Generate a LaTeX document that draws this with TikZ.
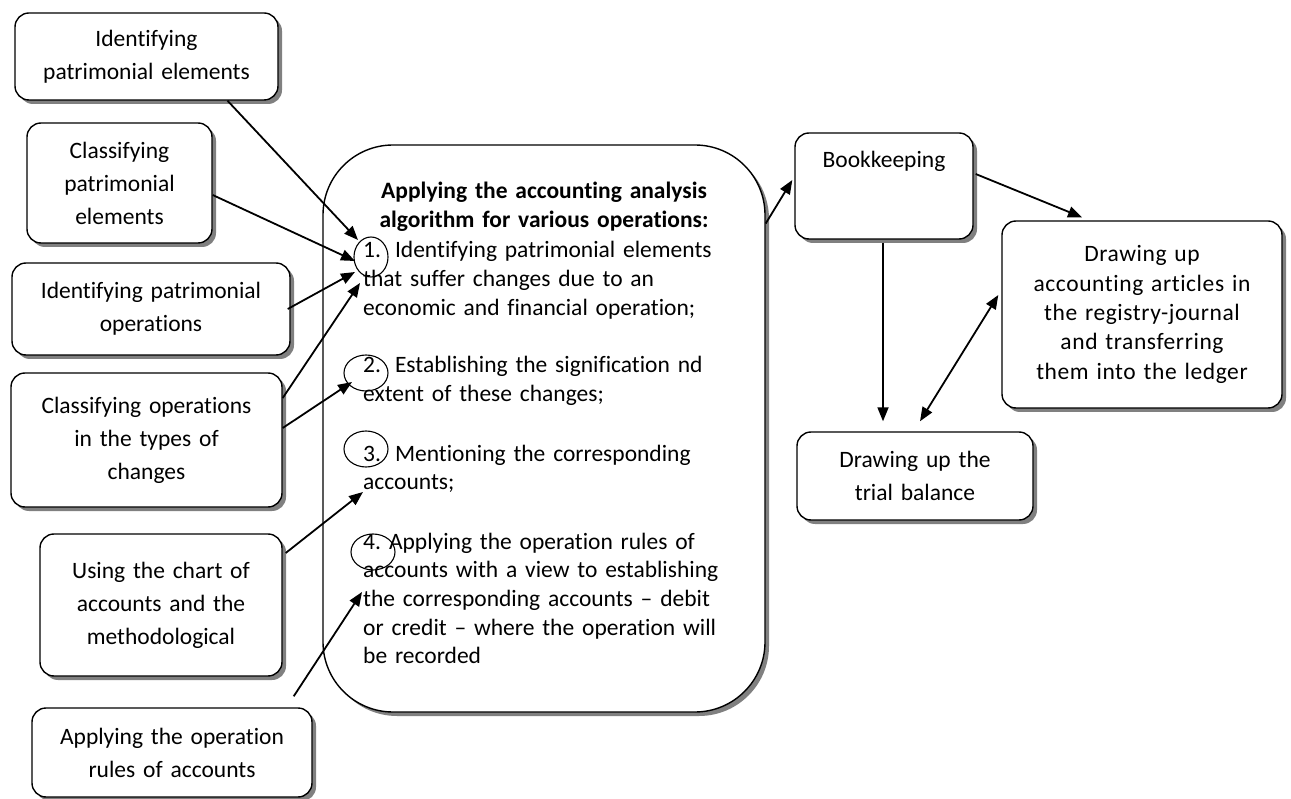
\documentclass[tikz,border=0pt]{standalone}
\usepackage{fontspec}
\setmainfont{Carlito}[Ligatures={NoCommon}]
\usetikzlibrary{shadows,arrows.meta,calc,shapes.geometric}
\begin{document}
\begin{tikzpicture}[x=1pt,y=-1pt,
  rbox/.style={draw, line width=1.4pt, rounded corners=14pt, fill=white,
    drop shadow={shadow xshift=4pt, shadow yshift=-4pt, fill=black!50, opacity=1},
    align=center, inner sep=0pt, font=\fontsize{23.5}{33}\selectfont},
  num/.style={draw, line width=1.1pt, ellipse, inner sep=0pt},
  itemtxt/.style={anchor=base west, align=left, text width=362pt, inner sep=0pt,
    font=\fontsize{23.5}{28.7}\selectfont},
  arr/.style={line width=1.8pt, -{Triangle[length=14pt,width=11pt]}},
  darr/.style={line width=1.8pt, {Triangle[length=14pt,width=11pt]}-{Triangle[length=14pt,width=11pt]}}
]
\useasboundingbox (0,0) rectangle (1291,799);

% left boxes
\node[rbox, minimum width=263pt, minimum height=87pt, text width=255pt] (b1) at (146.5,56.5) {Identifying\\patrimonial elements};
\node[rbox, minimum width=185pt, minimum height=120pt, text width=178pt] (b2) at (119.5,183) {Classifying\\patrimonial\\elements};
\node[rbox, minimum width=278pt, minimum height=92pt, text width=270pt] (b3) at (151,309) {Identifying patrimonial\\operations};
\node[rbox, minimum width=271pt, minimum height=134pt, text width=262pt] (b4) at (146.5,440) {Classifying operations\\in the types of\\changes};
\node[rbox, minimum width=242pt, minimum height=142pt, text width=235pt] (b5) at (161,605) {Using the chart of\\accounts and the\\methodological};
\node[rbox, minimum width=280pt, minimum height=89pt, text width=272pt] (b6) at (172,752.5) {Applying the operation\\rules of accounts};

% central box
\node[draw, line width=1.4pt, rounded corners=70pt, fill=white,
  drop shadow={shadow xshift=4pt, shadow yshift=-4pt, fill=black!50, opacity=1},
  minimum width=442pt, minimum height=567pt, inner sep=0pt] (big) at (544,428.5) {};

\node[anchor=base, align=center, text width=430pt, inner sep=0pt,
  font=\fontsize{23.5}{28.7}\selectfont\bfseries] (title) at (544,199)
  {Applying the accounting analysis\\algorithm for various operations:};

\node[itemtxt] (i1) at (363,258) {1.\hspace{14pt}Identifying patrimonial elements\\that suffer changes due to an\\economic and financial operation;};
\node[itemtxt] (i2) at (363,373) {2.\hspace{14pt}Establishing the signification nd\\extent of these changes;};
\node[itemtxt] (i3) at (363,461) {3.\hspace{14pt}Mentioning the corresponding\\accounts;};
\node[itemtxt] (i4) at (363,549) {\makebox[362pt][s]{4.\hspace{8pt}Applying the operation rules of}\\
  \makebox[362pt][s]{accounts with a view to establishing}\\
  \makebox[362pt][s]{the corresponding accounts -- debit}\\
  \makebox[362pt][s]{or credit -- where the operation will}\\
  be recorded};

\node[num, minimum width=34pt, minimum height=40pt] (c1) at (371,257) {};
\node[num, minimum width=44pt, minimum height=36pt] (c2) at (366,373) {};
\node[num, minimum width=44pt, minimum height=36pt] (c3) at (366,449) {};
\node[num, minimum width=44pt, minimum height=36pt] (c4) at (373,552) {};

% right boxes
\node[rbox, minimum width=178pt, text height=35pt, text depth=71pt, text width=170pt] (book) at (884,186) {Bookkeeping};
\node[rbox, minimum width=280pt, minimum height=187pt, text width=272pt,
  font=\fontsize{23.5}{29.3}\selectfont\addfontfeature{LetterSpace=2.5}] (acc) at (1142,314.5)
  {Drawing up\\accounting articles in\\the registry-journal\\and transferring\\them into the ledger};
\node[rbox, minimum width=236pt, minimum height=88pt, text width=228pt] (trial) at (915,476) {Drawing up the\\trial balance};

% arrow targets
\coordinate (t1) at (358,240);
\coordinate (t2) at (355,261);
\coordinate (t3) at (355,272);
\coordinate (t4) at (360,283);
\coordinate (t5) at (352,382);
\coordinate (t6) at (363,492);
\coordinate (t7) at (362,592);

\draw[arr] ([xshift=81pt]b1.south) -- (t1);
\draw[arr] ([yshift=-12pt]b2.east) -- (t2);
\draw[arr] ([shift={(-3pt,0pt)}]b3.east) -- (t3);
\draw[arr] ([yshift=42pt]b4.east) -- (t4);
\draw[arr] ([yshift=12pt]b4.east) -- (t5);
\draw[arr] ([shift={(3pt,52pt)}]b5.east) -- (t6);
\draw[arr] ([shift={(-19pt,11pt)}]b6.north east) -- (t7);

\draw[arr] ([yshift=205pt]big.east) -- ([shift={(-2pt,6pt)}]book.west);
\draw[arr] ([shift={(2pt,12pt)}]book.east) -- ([shift={(-60pt,3pt)}]acc.north);
\draw[arr] ([shift={(-1pt,-3pt)}]book.south) -- ([shift={(-32pt,10pt)}]trial.north);
\draw[darr] ([shift={(5pt,10pt)}]trial.north) -- ([shift={(-3pt,19.5pt)}]acc.west);
\end{tikzpicture}
\end{document}
